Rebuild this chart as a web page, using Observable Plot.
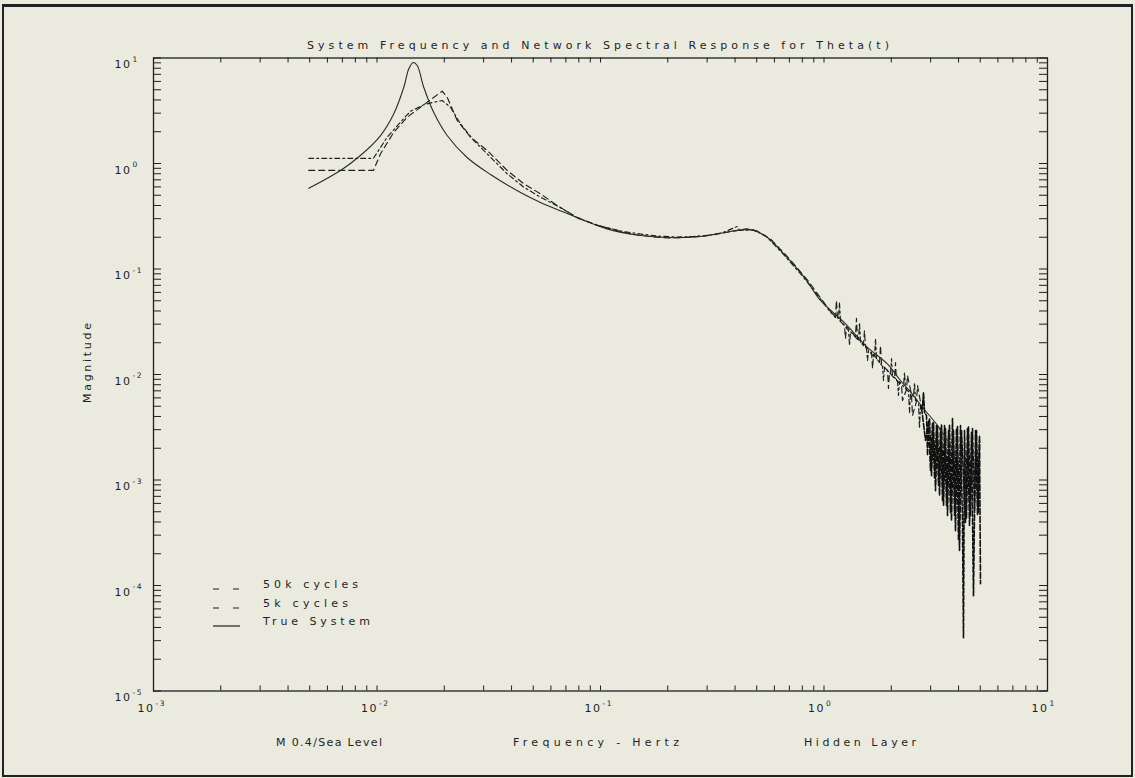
<!DOCTYPE html>
<html>
<head>
<meta charset="utf-8">
<script src="https://cdn.jsdelivr.net/npm/d3@7"></script>
<script src="https://cdn.jsdelivr.net/npm/@observablehq/plot@0.6"></script>
<style>
  html, body { margin: 0; padding: 0; background: #ebeadf; }
  #page { position: relative; width: 1135px; height: 778px; overflow: hidden; background: #ebeadf; }
  #border { position: absolute; left: 2px; top: 4px; width: 1131px; height: 773px; box-sizing: border-box;
            border: 2px solid #222; border-top-width: 3px; }
  #chart { position: absolute; left: 0; top: 0; }
  #overlay { position: absolute; left: 0; top: 0; pointer-events: none; }
</style>
</head>
<body>
<div id="page">
  <div id="border"></div>
  <div id="chart"></div>
  <div id="overlay"></div>
</div>
<script>
// ---------------- data ----------------
const titleText = "System Frequency and Network Spectral Response for Theta(t)";
const yLabelText = "Magnitude";
const bottomLabels = ["M 0.4/Sea Level", "Frequency - Hertz", "Hidden Layer"];
const legendLabels = ["50k cycles", "5k cycles", "True System"];

const xDecades = [1e-3, 1e-2, 1e-1, 1, 10];
const xExponents = ["-3", "-2", "-1", "0", "1"];
const yDecades = [1e-5, 1e-4, 1e-3, 1e-2, 1e-1, 1, 10];
const yExponents = ["-5", "-4", "-3", "-2", "-1", "0", "1"];
const tickBase = "10";

// True System (solid)
const trueFreq = [0.00495, 0.00687, 0.00843, 0.01037, 0.01189, 0.01318, 0.01388, 0.01452, 0.01513, 0.01619,
  0.01795, 0.0206, 0.0253, 0.0322, 0.0439, 0.0539, 0.071, 0.107, 0.151, 0.213, 0.28, 0.344, 0.438, 0.485,
  0.557, 0.661, 0.826, 0.964, 1.227, 1.56, 1.92, 2.199, 2.515, 2.788, 3.22, 3.681, 4.08, 4.912];
const trueMag = [0.583, 0.859, 1.19, 1.84, 2.96, 5.28, 7.9, 9.07, 8.49, 5.28,
  3.04, 1.843, 1.14, 0.786, 0.531, 0.427, 0.336, 0.240, 0.208, 0.198, 0.203, 0.218, 0.236, 0.232,
  0.200, 0.139, 0.0807, 0.0503, 0.0313, 0.0182, 0.0126, 0.00877, 0.00632, 0.00476, 0.00329, 0.00212, 0.00153, 0.000887];

// 50k cycles network
const freq50k = [0.00495, 0.00964, 0.01111, 0.01274, 0.01412, 0.01619, 0.01795, 0.01957, 0.02133, 0.02363,
  0.02711, 0.0322, 0.03824, 0.04538, 0.05388, 0.065, 0.08, 0.1, 0.125, 0.15, 0.18, 0.22, 0.26, 0.3, 0.35,
  0.409, 0.42, 0.48, 0.55, 0.65, 0.8, 0.964,
  1.069, 1.161, 1.173, 1.185, 1.287, 1.301, 1.314, 1.427, 1.442, 1.457, 1.55, 1.566, 1.582, 1.683, 1.7, 1.718,
  1.827, 1.846, 1.865, 1.984, 2.005, 2.025, 2.132, 2.154, 2.177, 2.268, 2.292, 2.316, 2.388, 2.413, 2.438,
  2.515, 2.541, 2.567, 2.648, 2.675, 2.703, 2.759, 2.788, 2.817, 2.875, 2.905, 2.935, 2.996, 3.059, 3.122,
  3.187, 3.254, 3.321, 3.391, 3.461, 3.533, 3.606, 3.681, 3.758, 3.836, 3.916, 3.997, 4.08, 4.165, 4.208,
  4.252, 4.341, 4.431, 4.523, 4.617, 4.713, 4.812, 4.912, 4.963];
const mag50k = [1.12, 1.12, 1.776, 2.464, 3.131, 3.601, 3.811, 3.956, 3.417, 2.378,
  1.652, 1.147, 0.7985, 0.5962, 0.4793, 0.39, 0.30, 0.255, 0.228, 0.215, 0.205, 0.201, 0.203, 0.208, 0.220,
  0.253, 0.232, 0.236, 0.205, 0.142, 0.086, 0.052,
  0.0387, 0.034, 0.0481, 0.0325, 0.0261, 0.0188, 0.0256, 0.021, 0.0311, 0.0201, 0.0176, 0.01358, 0.01687, 0.01449, 0.0219, 0.01418,
  0.01191, 0.00877, 0.01164, 0.01021, 0.01418, 0.00978, 0.00877, 0.00632, 0.00859, 0.00769, 0.01045, 0.00737, 0.0069, 0.00436, 0.00661,
  0.00618, 0.0084, 0.00567, 0.00531, 0.00308, 0.00508, 0.00476, 0.00675, 0.00436, 0.00409, 0.00171, 0.00366, 0.00123, 0.00351, 0.00103,
  0.00329, 0.000887, 0.00308, 0.00064, 0.00329, 0.000573, 0.00294, 0.000492, 0.00383, 0.000461, 0.00308, 0.000267, 0.00329, 0.00041, 0.000032,
  0.00294, 0.000431, 0.00321, 0.000461, 0.00308, 0.00051, 0.00294, 0.000492, 0.00237];

// 5k cycles network
const freq5k = [0.00495, 0.00964, 0.01037, 0.01189, 0.01365, 0.01565, 0.01735, 0.01957, 0.0206, 0.02285,
  0.0262, 0.03112, 0.03824, 0.04538, 0.05388, 0.064, 0.078, 0.095, 0.118, 0.14, 0.17, 0.2, 0.24, 0.29, 0.34,
  0.39, 0.45, 0.5, 0.58, 0.7, 0.85, 1.0,
  1.103, 1.125, 1.137, 1.149, 1.235, 1.248, 1.261, 1.383, 1.397, 1.412, 1.502, 1.517, 1.533, 1.632, 1.649, 1.666,
  1.772, 1.79, 1.809, 1.924, 1.943, 1.963, 2.067, 2.089, 2.11, 2.222, 2.245, 2.34, 2.364, 2.463, 2.489,
  2.594, 2.621, 2.731, 2.846, 2.966, 3.027, 3.09, 3.155, 3.22, 3.288, 3.356, 3.426, 3.496, 3.569, 3.643,
  3.719, 3.797, 3.876, 3.956, 4.039, 4.123, 4.296, 4.386, 4.477, 4.57, 4.665, 4.763, 4.862, 4.963, 5.014];
const mag5k = [0.86, 0.86, 1.236, 1.98, 2.748, 3.417, 4.017, 4.846, 4.25, 2.556,
  1.776, 1.328, 0.859, 0.642, 0.516, 0.40, 0.31, 0.262, 0.232, 0.213, 0.202, 0.197, 0.199, 0.205, 0.216,
  0.228, 0.240, 0.230, 0.190, 0.125, 0.077, 0.048,
  0.0362, 0.0347, 0.0503, 0.034, 0.0291, 0.0219, 0.0285, 0.0229, 0.034, 0.0219, 0.0192, 0.0261, 0.0184, 0.01616, 0.0114, 0.01549,
  0.013, 0.0188, 0.01245, 0.01091, 0.00737, 0.01045, 0.00916, 0.013, 0.00877, 0.00804, 0.00567, 0.00721, 0.00978, 0.00646, 0.00409,
  0.00555, 0.00786, 0.00486, 0.00237, 0.00383, 0.0011, 0.00351, 0.00079, 0.00321, 0.000713, 0.00336, 0.000573, 0.00308, 0.000461, 0.00336,
  0.00041, 0.00294, 0.00033, 0.00321, 0.000215, 0.00294, 0.000395, 0.00308, 0.000371, 0.00282, 0.00008, 0.00294, 0.000461, 0.00264, 0.000104];

// ---------------- chart ----------------
const W = 1135, H = 778;
const mL = 153, mR = 88, mT = 57.5, mB = 87.5;
const innerW = W - mL - mR, innerH = H - mT - mB;
const ink = "#1f1f1f";
const sans = "DejaVu Sans, sans-serif";
const denseFrom = 2.8; // where the network estimates become a dense hatched block

const toRows = (fs, ms) => fs.map((f, i) => ({f, m: ms[i]}));
const trueRows = toRows(trueFreq, trueMag);
const rows50k = toRows(freq50k, mag50k);
const rows5k = toRows(freq5k, mag5k);
const xMinor = d3.scaleLog().domain([xDecades[0], xDecades[xDecades.length - 1]]).ticks();
const yMinor = d3.scaleLog().domain([yDecades[0], yDecades[yDecades.length - 1]]).ticks();

const chart = Plot.plot({
  width: W, height: H,
  marginLeft: mL, marginRight: mR, marginTop: mT, marginBottom: mB,
  x: {type: "log", domain: [xDecades[0], xDecades[xDecades.length - 1]], axis: null},
  y: {type: "log", domain: [yDecades[0], yDecades[yDecades.length - 1]], axis: null},
  style: "background: transparent; letter-spacing: 1.5px; color: #1f1f1f;",
  marks: [
    Plot.frame({stroke: ink, strokeWidth: 1.3}),
    Plot.tickX(xMinor, {x: d => d, insetTop: innerH - 5, stroke: ink, strokeWidth: 1}),
    Plot.tickX(xMinor, {x: d => d, insetBottom: innerH - 5, stroke: ink, strokeWidth: 1}),
    Plot.tickY(yMinor, {y: d => d, insetRight: innerW - 8, stroke: ink, strokeWidth: 1}),
    Plot.tickY(yMinor, {y: d => d, insetLeft: innerW - 8, stroke: ink, strokeWidth: 1}),
    Plot.line(rows50k, {x: "f", y: "m", filter: d => d.f <= denseFrom, stroke: ink, strokeWidth: 1.15, strokeDasharray: "5,3,2,3"}),
    Plot.line(rows5k, {x: "f", y: "m", filter: d => d.f <= denseFrom, stroke: ink, strokeWidth: 1.15, strokeDasharray: "6,4"}),
    Plot.line(rows50k, {x: "f", y: "m", filter: d => d.f >= 2.7, stroke: "#111", strokeWidth: 1.6, strokeDasharray: "5,2"}),
    Plot.line(rows5k, {x: "f", y: "m", filter: d => d.f >= 2.7, stroke: "#111", strokeWidth: 1.6, strokeDasharray: "6,2"}),
    Plot.line(trueRows, {x: "f", y: "m", stroke: "#2a2a2a", strokeWidth: 1.1, curve: "catmull-rom"}),
    // x tick labels: base "10" + raised exponent
    Plot.text(xDecades, {x: d => d, text: () => tickBase, frameAnchor: "bottom", dy: 21, dx: 1,
      textAnchor: "end", fontSize: 11, fontFamily: sans, fill: ink}),
    Plot.text(xDecades, {x: d => d, text: (d, i) => xExponents[i], frameAnchor: "bottom", dy: 15, dx: 2,
      textAnchor: "start", fontSize: 7.5, fontFamily: sans, fill: ink}),
    // y tick labels
    Plot.text(yDecades, {y: d => d, text: () => tickBase, frameAnchor: "left", dx: -22, dy: 6.5,
      textAnchor: "end", fontSize: 11, fontFamily: sans, fill: ink}),
    Plot.text(yDecades, {y: d => d, text: (d, i) => yExponents[i], frameAnchor: "left", dx: -21, dy: 1.5,
      textAnchor: "start", fontSize: 7.5, fontFamily: sans, fill: ink})
  ]
});
document.getElementById("chart").appendChild(chart);

// ---------------- title, axis captions, legend (overlay) ----------------
const ov = d3.select("#overlay").append("svg").attr("width", W).attr("height", H)
  .style("font-family", sans).style("font-size", "11px").attr("fill", ink);

function label(sel, txt, x, y, len, anchor) {
  return sel.append("text").attr("x", x).attr("y", y).attr("text-anchor", anchor || "start")
    .attr("textLength", len).attr("lengthAdjust", "spacing").text(txt);
}
label(ov, titleText, 307, 48.5, 582);
label(ov, bottomLabels[0], 276, 746, 106);
label(ov, bottomLabels[1], 513, 746, 166);
label(ov, bottomLabels[2], 804, 746, 112);
ov.append("text").attr("transform", "translate(91,363) rotate(-90)").attr("text-anchor", "middle")
  .attr("textLength", 80).attr("lengthAdjust", "spacing").text(yLabelText);

// legend
const legY = [588, 607, 625];
const legDash = ["6,14", "6,14", null];
const legLen = [95, 85, 107];
legendLabels.forEach((t, i) => {
  const ln = ov.append("line").attr("x1", 213).attr("x2", 240)
    .attr("y1", legY[i] + 1).attr("y2", legY[i] + 1)
    .attr("stroke", ink).attr("stroke-width", 1.2);
  if (legDash[i]) ln.attr("stroke-dasharray", legDash[i]);
  label(ov, t, 263, legY[i], legLen[i]);
});
</script>
</body>
</html>
